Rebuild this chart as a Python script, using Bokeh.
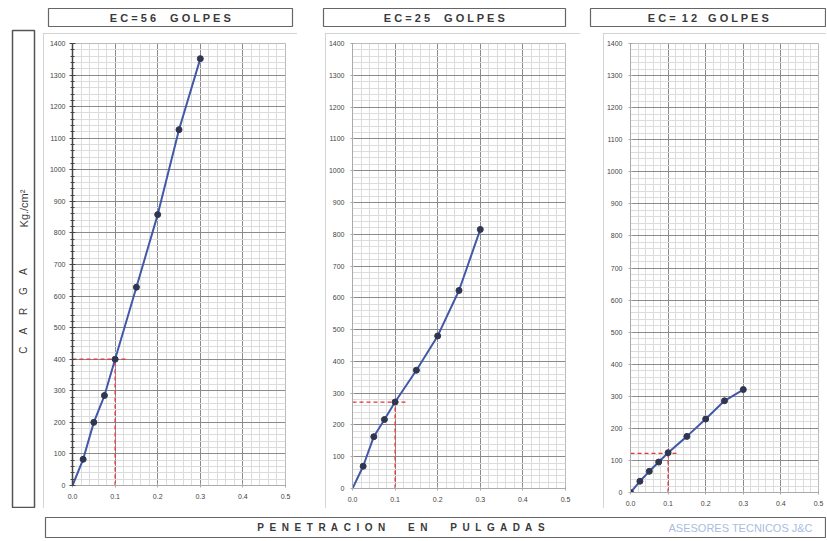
from math import pi
from bokeh.plotting import figure
from bokeh.layouts import row, column, Spacer
from bokeh.models import SingleIntervalTicker, Range1d, PrintfTickFormatter
from bokeh.core.properties import value
from bokeh.embed import file_html
from bokeh.resources import INLINE

# ---------------- data ----------------
pen_56 = [0.025, 0.05, 0.075, 0.1, 0.15, 0.2, 0.25, 0.3]
load_56 = [83, 200, 285, 400, 628, 858, 1127, 1352]

pen_25 = [0.025, 0.05, 0.075, 0.1, 0.15, 0.2, 0.25, 0.3]
load_25 = [70, 163, 217, 272, 372, 480, 623, 815]

pen_12 = [0.0, 0.025, 0.05, 0.075, 0.1, 0.15, 0.2, 0.25, 0.3]
load_12 = [0, 35, 66, 95, 124, 175, 229, 286, 321]

titles = ["E C = 5 6\u2003 G O L P E S",
          "E C = 2 5\u2003 G O L P E S",
          "E C = \u00a01 2\u2003G O L P E S"]
ref_pen = 0.1
load_at_ref = [400, 272, 122]
dash_end = 0.13
x_max, y_max = 0.5, 1400

FONT_NAME = "Liberation Sans"
FONT = value(FONT_NAME)
LINE_C = "#4159a8"
MARK_C = "#30364f"
RED = "#e8323a"
PANEL = {"outline": "1px solid #c6c6c6", "outline-offset": "-1px"}


def chart(w, h, bl, br, bt, bb, px, py, cbr_load, strong_axis):
    p = figure(width=w, height=h, x_range=Range1d(0, x_max), y_range=Range1d(0, y_max),
               output_backend="svg", toolbar_location=None, styles=PANEL,
               min_border_left=bl, min_border_right=br, min_border_top=bt, min_border_bottom=bb)
    p.xaxis.ticker = SingleIntervalTicker(interval=0.1, num_minor_ticks=5)
    p.yaxis.ticker = SingleIntervalTicker(interval=100, num_minor_ticks=5)
    p.xaxis.formatter = PrintfTickFormatter(format="%.1f")
    for ax in (p.xaxis, p.yaxis):
        ax.major_label_text_font = FONT_NAME
        ax.major_label_text_font_size = "7px"
        ax.major_label_text_color = "#444"
        ax.major_label_standoff = 4
    p.xaxis.axis_line_color = "#aaa"
    p.xaxis.major_tick_line_color = "#aaa"
    p.xaxis.minor_tick_line_color = None
    p.xaxis.major_tick_out = 2
    if strong_axis:
        p.yaxis.axis_line_color = "#444"
        p.yaxis.axis_line_width = 1.5
        p.yaxis.major_tick_line_color = "#444"
        p.yaxis.minor_tick_line_color = "#444"
        p.yaxis.major_tick_in = 3
        p.yaxis.major_tick_out = 3
        p.yaxis.minor_tick_in = 2
        p.yaxis.minor_tick_out = 2
    else:
        p.yaxis.axis_line_color = "#aaa"
        p.yaxis.major_tick_line_color = "#aaa"
        p.yaxis.minor_tick_line_color = None
        p.yaxis.major_tick_out = 2
    p.grid.grid_line_color = "#8a8a8a"
    p.grid.grid_line_width = 1
    p.grid.minor_grid_line_color = "#dcdcdc"
    p.outline_line_color = "#bbbbbb"
    p.background_fill_color = "#ffffff"
    p.border_fill_color = "#ffffff"

    # red dashed reference lines at 0.1"
    p.segment(x0=[0], y0=[cbr_load], x1=[dash_end], y1=[cbr_load],
              line_color=RED, line_dash="4 3", line_width=1.3)
    p.segment(x0=[ref_pen], y0=[0], x1=[ref_pen], y1=[cbr_load],
              line_color=RED, line_dash="4 3", line_width=1.3)

    lx = px if px[0] == 0 else [0] + px
    ly = py if py[0] == 0 else [0] + py
    p.line(lx, ly, line_color=LINE_C, line_width=2)
    p.scatter(px, py, size=6, fill_color=MARK_C, line_color=MARK_C)
    return p


def title_fig(w, text, bl, br):
    t = figure(width=w, height=33, x_range=Range1d(0, 1), y_range=Range1d(0, 1),
               x_axis_type=None, y_axis_type=None, output_backend="svg", toolbar_location=None,
               min_border_left=bl, min_border_right=br, min_border_top=8, min_border_bottom=7)
    t.grid.visible = False
    t.outline_line_color = "#666"
    t.outline_line_width = 1.2
    t.text(x=[0.5], y=[0.45], text=[text], text_align="center", text_baseline="middle",
           text_font=FONT, text_font_size="11px", text_font_style="bold", text_color="#3a3a3a")
    return t


# left label panel (data coords = page pixels)
figL = figure(width=43, height=508, x_range=Range1d(12, 34), y_range=Range1d(507, 30),
              x_axis_type=None, y_axis_type=None, output_backend="svg", toolbar_location=None,
              min_border_left=12, min_border_right=9, min_border_top=30, min_border_bottom=1)
figL.grid.visible = False
figL.outline_line_color = "#555"
figL.outline_line_width = 1.5
figL.text(x=[23], y=[310], text=["C\u2003 A\u2003 R\u2003 G\u2003 A"], angle=pi / 2,
          text_align="center", text_baseline="middle", text_font=FONT,
          text_font_size="10px", text_color="#3a3a3a")
figL.text(x=[23], y=[208], text=["Kg./cm²"], angle=pi / 2,
          text_align="center", text_baseline="middle", text_font=FONT,
          text_font_size="11px", text_color="#3a3a3a")

c1 = chart(254, 475, 29, 12, 10, 23, pen_56, load_56, load_at_ref[0], True)
c2 = chart(255, 475, 27, 15, 10, 20, pen_25, load_25, load_at_ref[1], False)
c3 = chart(223, 475, 26, 8, 10, 15, pen_12, load_12, load_at_ref[2], False)

t1 = title_fig(257, titles[0], 5, 8)
t2 = title_fig(280, titles[1], 23, 15)
t3 = title_fig(246, titles[2], 10, 0)

col1 = column(t1, row(c1, Spacer(width=3, height=475)))
col2 = column(t2, row(Spacer(width=25, height=475), c2))
col3 = column(t3, row(Spacer(width=23, height=475), c3))

# bottom label panel (data coords = page pixels)
figB = figure(width=826, height=32, x_range=Range1d(45, 826), y_range=Range1d(537, 517),
              x_axis_type=None, y_axis_type=None, output_backend="svg", toolbar_location=None,
              min_border_left=45, min_border_right=0, min_border_top=9, min_border_bottom=3)
figB.grid.visible = False
figB.outline_line_color = "#666"
figB.outline_line_width = 1.2
figB.text(x=[401], y=[527],
          text=["P\u00a0 E\u00a0 N\u00a0 E\u00a0 T\u00a0 R\u00a0 A\u00a0 C\u00a0 I\u00a0 O\u00a0 N"
                "\u2003\u2003 E\u00a0 N\u2003\u2003 P\u00a0 U\u00a0 L\u00a0 G\u00a0 A\u00a0 D\u00a0 A\u00a0 S"],
          text_align="center", text_baseline="middle", text_font=FONT,
          text_font_size="10px", text_font_style="bold", text_color="#3a3a3a")
figB.text(x=[668], y=[527], text=["ASESORES TECNICOS J&C"], text_align="left",
          text_baseline="middle", text_font=FONT, text_font_size="11px", text_color="#a9bde0")

layout = column(row(figL, col1, col2, col3), figB)

open("out.html", "w").write(file_html(layout, INLINE))
